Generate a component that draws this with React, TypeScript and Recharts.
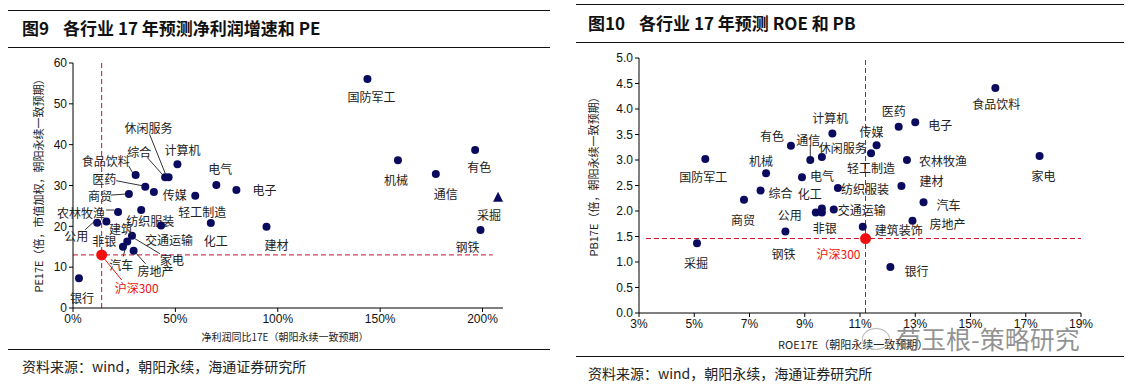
import React from "react";
import { ScatterChart, Scatter, XAxis, YAxis, ReferenceLine } from "recharts";

// 行业 & 两张图的数据
const industries = [
  "银行", "公用", "非银", "农林牧渔", "商贸", "食品饮料", "医药", "传媒", "综合", "休闲服务",
  "计算机", "纺织服装", "交通运输", "家电", "汽车", "建筑装饰", "房地产", "轻工制造", "电气", "电子",
  "化工", "建材", "国防军工", "机械", "通信", "有色", "钢铁", "采掘",
];
// 图9：净利润同比17E(%) / PE17E
const profitGrowth = [
  2.9, 11.8, 16.3, 22.0, 27.3, 30.6, 35.3, 39.5, 45.0, 46.7,
  51.0, 33.3, 43.0, 28.8, 26.5, 24.4, 29.6, 59.7, 70.0, 79.8,
  67.3, 94.5, 143.8, 158.7, 177.2, 196.4, 199.0, 207.6,
];
const pe = [
  7.3, 20.9, 21.2, 23.5, 27.9, 32.6, 29.7, 28.4, 32.0, 32.0,
  35.2, 24.0, 20.2, 17.7, 16.3, 15.0, 14.0, 27.5, 30.1, 28.9,
  20.8, 19.9, 56.1, 36.2, 32.8, 38.7, 19.1, 27.0,
];
// 图10：ROE17E(%) / PB17E
const roe = [
  12.1, 9.4, 9.62, 12.7, 6.8, 15.9, 12.4, 11.6, 7.4, 9.62,
  10.0, 10.2, 10.05, 17.5, 13.3, 11.1, 12.9, 11.4, 8.9, 13.0,
  9.62, 12.5, 5.4, 7.6, 9.2, 8.5, 8.3, 5.1,
];
const pb = [
  0.9, 1.97, 1.97, 3.0, 2.22, 4.41, 3.65, 3.29, 2.4, 3.06,
  3.52, 2.45, 2.03, 3.08, 2.17, 1.69, 1.81, 3.13, 2.66, 3.74,
  2.05, 2.49, 3.02, 2.74, 3.0, 3.28, 1.6, 1.37,
];
const benchName = "沪深300";
const benchGrowth = 14;
const benchPe = 13;
const benchRoe = 11.2;
const benchPb = 1.46;

const growthTicks = [0, 50, 100, 150, 200];
const peTicks = [0, 10, 20, 30, 40, 50, 60];
const roeTicks = [3, 5, 7, 9, 11, 13, 15, 17, 19];
const pbTicks = [0, 0.5, 1, 1.5, 2, 2.5, 3, 3.5, 4, 4.5, 5];

const NAVY = "#0a0a5e";
const RED = "#f01010";
const DASH = "#c8102e";
const CJK = '"Noto Sans CJK SC", sans-serif';
const LATIN = '"Liberation Sans", Arial, sans-serif';

type Pos = { dx: number; dy: number; line?: number[] };

// 标签相对点的位置（像素）
const leftPos: Record<string, Pos> = {
  国防军工: { dx: 4, dy: 18 },
  机械: { dx: -2, dy: 19 },
  通信: { dx: 10, dy: 19 },
  有色: { dx: 4, dy: 17 },
  采掘: { dx: -9, dy: 17 },
  钢铁: { dx: -13, dy: 16 },
  建材: { dx: 10, dy: 18 },
  化工: { dx: 5, dy: 17 },
  交通运输: { dx: 8, dy: 14 },
  电子: { dx: 28, dy: 0 },
  电气: { dx: 4, dy: -17 },
  轻工制造: { dx: 7, dy: 16 },
  计算机: { dx: 5, dy: -15 },
  休闲服务: { dx: -20, dy: -50, line: [-19, -43, -3, -3] },
  综合: { dx: -26, dy: -26, line: [-18, -20, -2, -2] },
  食品饮料: { dx: -30, dy: -14, line: [-7, -9, -3, -2] },
  医药: { dx: -41, dy: -8, line: [-29, -6, -3, -1] },
  传媒: { dx: 21, dy: 2 },
  商贸: { dx: -29, dy: 1, line: [-18, 1, -3, 0] },
  农林牧渔: { dx: -37, dy: 0, line: [-12, -2, -4, -2] },
  纺织服装: { dx: 9, dy: 10 },
  公用: { dx: -21, dy: 13, line: [-12, 7, -3, -1] },
  非银: { dx: -2, dy: 19 },
  建筑装饰: { dx: -2, dy: -18 },
  汽车: { dx: -6, dy: 23, line: [-4, 15, -1, 3] },
  家电: { dx: 40, dy: 24, line: [3, 3, 28, 18] },
  房地产: { dx: 22, dy: 20, line: [3, 3, 12, 13] },
  银行: { dx: 3, dy: 19 },
  沪深300: { dx: 35, dy: 33, line: [2, 3, 20, 25] },
};
const leftText: Record<string, string> = { 建筑装饰: "建筑" };

const rightPos: Record<string, Pos> = {
  国防军工: { dx: -2, dy: 18 },
  机械: { dx: -5, dy: -13 },
  有色: { dx: -19, dy: -10 },
  通信: { dx: -2, dy: -21, line: [0, -15, 0, -4] },
  计算机: { dx: -2, dy: -16 },
  休闲服务: { dx: 21, dy: -9 },
  电气: { dx: 20, dy: -2 },
  综合: { dx: 20, dy: 2 },
  化工: { dx: -12, dy: -15 },
  纺织服装: { dx: 27, dy: 0 },
  商贸: { dx: -1, dy: 20 },
  公用: { dx: -26, dy: 2 },
  非银: { dx: 3, dy: 15 },
  交通运输: { dx: 28, dy: 0 },
  钢铁: { dx: -2, dy: 22 },
  采掘: { dx: -1, dy: 19 },
  建筑装饰: { dx: 36, dy: 3 },
  房地产: { dx: 35, dy: 3 },
  银行: { dx: 26, dy: 3 },
  汽车: { dx: 25, dy: 2 },
  建材: { dx: 30, dy: -6 },
  农林牧渔: { dx: 36, dy: 0 },
  轻工制造: { dx: 0, dy: 14 },
  传媒: { dx: -5, dy: -14 },
  医药: { dx: -5, dy: -16 },
  电子: { dx: 25, dy: 2 },
  食品饮料: { dx: 1, dy: 15 },
  家电: { dx: 4, dy: 20 },
  沪深300: { dx: -27, dy: 15 },
};

const triangles = new Set(["采掘"]);

const peData = industries.map((name, i) => ({ name, x: profitGrowth[i], y: pe[i] }));
const pbData = industries.map((name, i) => ({ name, x: roe[i], y: pb[i] }));
const peBench = [{ name: benchName, x: benchGrowth, y: benchPe }];
const pbBench = [{ name: benchName, x: benchRoe, y: benchPb }];

function makeShape(pos: Record<string, Pos>, color: string, r: number, textColor: string, tri?: Set<string>, texts?: Record<string, string>) {
  return (props: any) => {
    const { cx, cy, payload } = props;
    if (cx == null || cy == null) return <g />;
    const p = pos[payload.name] || { dx: 0, dy: 16 };
    const label = (texts && texts[payload.name]) || payload.name;
    const lineColor = textColor === "#222" ? "#333" : textColor;
    return (
      <g>
        {p.line && (
          <line x1={cx + p.line[0]} y1={cy + p.line[1]} x2={cx + p.line[2]} y2={cy + p.line[3]} stroke={lineColor} strokeWidth={1} />
        )}
        {tri && tri.has(payload.name) ? (
          <polygon points={`${cx},${cy - 6} ${cx - 5},${cy + 4} ${cx + 5},${cy + 4}`} fill={color} />
        ) : (
          <circle cx={cx} cy={cy} r={r} fill={color} />
        )}
        <text x={cx + p.dx} y={cy + p.dy} textAnchor="middle" dominantBaseline="central" fontSize={12} fontFamily={CJK} fill={textColor}>
          {label}
        </text>
      </g>
    );
  };
}

const tickStyle = { fontSize: 12, fill: "#111", fontFamily: LATIN };
const rule = (left: number, top: number, width: number): React.CSSProperties => ({
  position: "absolute", left, top, width, height: 0, borderTop: "1.5px solid #111",
});
const titleStyle = (left: number, top: number): React.CSSProperties => ({
  position: "absolute", left, top, fontSize: 17, fontWeight: 700, color: "#111", whiteSpace: "pre",
});

export default function App() {
  return (
    <div style={{ position: "absolute", left: 0, top: 0, width: 1139, height: 385, background: "#fff", overflow: "hidden", fontFamily: CJK }}>
      {/* 图9 */}
      <div style={rule(8, 10, 542)} />
      <div style={titleStyle(22, 15)}>
        图9<span style={{ marginLeft: 14 }}>各行业 17 年预测净利润增速和 PE</span>
      </div>
      <div style={rule(8, 47, 542)} />
      <div style={{ position: "absolute", left: 0, top: 0 }}>
        <ScatterChart width={520} height={330} margin={{ top: 63, right: 17, bottom: 2, left: 33 }}>
          <XAxis type="number" dataKey="x" domain={[0, 210]} ticks={growthTicks} tickFormatter={(v) => `${v}%`}
            height={20} tick={tickStyle} tickSize={4} stroke="#000" />
          <YAxis type="number" dataKey="y" domain={[0, 60]} ticks={peTicks} width={40} tick={tickStyle} tickSize={4} stroke="#000" />
          <ReferenceLine x={benchGrowth} stroke={DASH} strokeDasharray="5 3" />
          <ReferenceLine segment={[{ x: 0, y: benchPe }, { x: 205, y: benchPe }]} stroke={DASH} strokeDasharray="5 3" />
          <Scatter data={peData} isAnimationActive={false} shape={makeShape(leftPos, NAVY, 4, "#222", triangles, leftText)} />
          <Scatter data={peBench} isAnimationActive={false} shape={makeShape(leftPos, RED, 5.5, RED)} />
        </ScatterChart>
      </div>
      <div style={{ position: "absolute", left: 38, top: 183, transform: "translate(-50%, -50%) rotate(-90deg)", fontSize: 11, color: "#222", whiteSpace: "nowrap" }}>
        PE17E（倍，市值加权，朝阳永续一致预期）
      </div>
      <div style={{ position: "absolute", left: 285, top: 336, transform: "translate(-50%, -50%)", fontSize: 10, color: "#222", whiteSpace: "nowrap" }}>
        净利润同比17E（朝阳永续一致预期）
      </div>
      <div style={rule(8, 349, 542)} />
      <div style={{ position: "absolute", left: 22, top: 356, fontSize: 14, color: "#222" }}>
        资料来源：wind，朝阳永续，海通证券研究所
      </div>

      {/* 图10 */}
      <div style={rule(576, 4, 548)} />
      <div style={titleStyle(588, 10)}>
        图10<span style={{ marginLeft: 14 }}>各行业 17 年预测 ROE 和 PB</span>
      </div>
      <div style={rule(576, 42, 548)} />
      <div style={{ position: "absolute", left: 580, top: 0 }}>
        <ScatterChart width={520} height={340} margin={{ top: 58, right: 19, bottom: 7, left: 29 }}>
          <XAxis type="number" dataKey="x" domain={[3, 19]} ticks={roeTicks} tickFormatter={(v) => `${v}%`}
            height={20} tick={tickStyle} tickSize={4} stroke="#000" />
          <YAxis type="number" dataKey="y" domain={[0, 5]} ticks={pbTicks} tickFormatter={(v) => Number(v).toFixed(1)}
            width={30} tick={tickStyle} tickSize={4} stroke="#000" />
          <ReferenceLine x={benchRoe} stroke={DASH} strokeDasharray="5 3" />
          <ReferenceLine segment={[{ x: 3.25, y: benchPb }, { x: 19, y: benchPb }]} stroke={DASH} strokeDasharray="5 3" />
          <Scatter data={pbData} isAnimationActive={false} shape={makeShape(rightPos, NAVY, 4, "#222")} />
          <Scatter data={pbBench} isAnimationActive={false} shape={makeShape(rightPos, RED, 5.5, RED)} />
        </ScatterChart>
      </div>
      <div style={{ position: "absolute", left: 593, top: 174, transform: "translate(-50%, -50%) rotate(-90deg)", fontSize: 11, color: "#222", whiteSpace: "nowrap" }}>
        PB17E（倍，朝阳永续一致预期）
      </div>
      <div style={{ position: "absolute", left: 778, top: 336, fontSize: 11, color: "#222", whiteSpace: "nowrap" }}>
        ROE17E（朝阳永续一致预期）
      </div>
      <div style={{ position: "absolute", left: 862, top: 328, width: 26, height: 20, borderRadius: "50%", border: "1.5px solid #bbb" }} />
      <div style={{ position: "absolute", left: 896, top: 320, fontSize: 25, color: "rgba(110,110,110,0.75)", whiteSpace: "nowrap" }}>
        荀玉根-策略研究
      </div>
      <div style={rule(576, 356, 548)} />
      <div style={{ position: "absolute", left: 588, top: 363, fontSize: 14, color: "#222" }}>
        资料来源：wind，朝阳永续，海通证券研究所
      </div>
    </div>
  );
}
